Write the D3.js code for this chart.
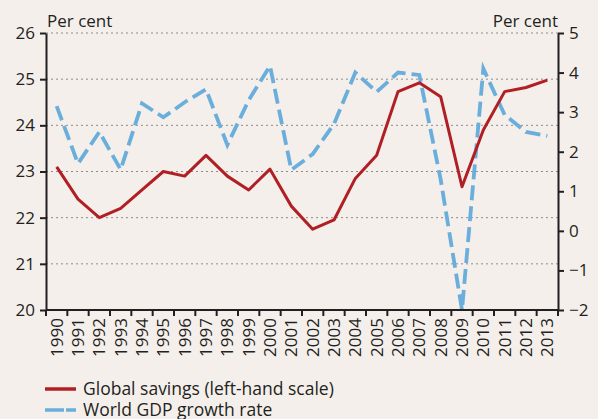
<!DOCTYPE html>
<html>
<head>
<meta charset="utf-8">
<script src="https://cdn.jsdelivr.net/npm/d3@7"></script>
<style>
  body { margin: 0; background: #f5efec; }
  svg { display: block; font-family: 'Open Sans', 'Noto Sans', sans-serif; }
  .axis path, .axis line { stroke: #231f20; stroke-width: 2; }
  .axis text { fill: #231f20; font-size: 17px; font-family: 'Open Sans', 'Noto Sans', sans-serif; }
  .xaxis text { font-size: 17px; }
  .grid line { stroke: #8c8c8c; stroke-width: 1; stroke-dasharray: 2, 3; }
</style>
</head>
<body>
<svg id="chart" width="598" height="419"></svg>
<script>
// years on the x axis
const years = d3.range(1990, 2014).map(String);

// global savings, per cent of GDP (left-hand scale)
const savings = [23.1, 22.4, 22.0, 22.2, 22.6, 23.0, 22.9, 23.35, 22.9, 22.6, 23.05, 22.25,
                 21.75, 21.95, 22.85, 23.35, 24.73, 24.92, 24.62, 22.67, 23.9, 24.73, 24.82, 24.98];

// world GDP growth rate, per cent (right-hand scale)
const gdpGrowth = [3.15, 1.7, 2.5, 1.55, 3.22, 2.87, 3.25, 3.58, 2.17, 3.3, 4.17, 1.54,
                   1.94, 2.7, 4.0, 3.51, 4.0, 3.94, 1.3, -2.0, 4.1, 2.93, 2.5, 2.4];

const leftTicks = [20, 21, 22, 23, 24, 25, 26];
const rightTicks = [-2, -1, 0, 1, 2, 3, 4, 5];

const svg = d3.select('#chart');
const margin = { top: 33, bottom: 109, left: 46, right: 40 };
const width = +svg.attr('width');
const height = +svg.attr('height');
const innerWidth = width - margin.left - margin.right;
const innerHeight = height - margin.top - margin.bottom;
const g = svg.append('g').attr('transform', `translate(${margin.left}, ${margin.top})`);

// scales
const xScale = d3.scaleBand().domain(years).range([0, innerWidth]);
const yLeft = d3.scaleLinear().domain([20, 26]).range([innerHeight, 0]);
const yRight = d3.scaleLinear().domain([-2, 5]).range([innerHeight, 0]);
const xc = d => xScale(d) + xScale.bandwidth() / 2;

// dotted gridlines on the left-hand scale
g.append('g').attr('class', 'grid')
    .selectAll('line')
    .data(leftTicks.filter(t => t > 20))
    .enter().append('line')
    .attr('x1', 0).attr('x2', innerWidth)
    .attr('y1', d => yLeft(d)).attr('y2', d => yLeft(d));

// lines
const savingsLine = d3.line().x((d, i) => xc(years[i])).y(d => yLeft(d));
const gdpLine = d3.line().x((d, i) => xc(years[i])).y(d => yRight(d));

g.append('path')
    .datum(gdpGrowth)
    .attr('fill', 'none')
    .attr('stroke', '#6aaedb')
    .attr('stroke-width', 3.8)
    .attr('stroke-dasharray', '15, 6')
    .attr('d', gdpLine);

g.append('path')
    .datum(savings)
    .attr('fill', 'none')
    .attr('stroke', '#b01f24')
    .attr('stroke-width', 3)
    .attr('stroke-linejoin', 'round')
    .attr('d', savingsLine);

// axes
const yAxisLeft = d3.axisLeft(yLeft).tickValues(leftTicks).tickFormat(d3.format('d'))
    .tickSizeInner(6).tickSizeOuter(0).tickPadding(5);
const yAxisRight = d3.axisRight(yRight).tickValues(rightTicks)
    .tickSizeInner(6).tickSizeOuter(0).tickPadding(5)
    .tickFormat(d => d < 0 ? '\u2212' + Math.abs(d) : d);

g.append('g').attr('class', 'axis').call(yAxisLeft);
g.append('g').attr('class', 'axis').attr('transform', `translate(${innerWidth}, 0)`).call(yAxisRight);

// x axis with ticks between the years
const xAxisG = g.append('g').attr('class', 'axis xaxis').attr('transform', `translate(0, ${innerHeight})`);
xAxisG.append('line')
    .attr('x1', 0).attr('x2', innerWidth)
    .attr('y1', 0).attr('y2', 0);
xAxisG.selectAll('line.tick')
    .data(d3.range(years.length + 1))
    .enter().append('line')
    .attr('class', 'tick')
    .attr('x1', i => i * xScale.step()).attr('x2', i => i * xScale.step())
    .attr('y1', 0).attr('y2', 6);
xAxisG.selectAll('text')
    .data(years)
    .enter().append('text')
    .attr('transform', d => `translate(${xc(d) + 6}, 8) rotate(-90)`)
    .attr('text-anchor', 'end')
    .text(d => d);

// axis titles
svg.append('text')
    .attr('x', margin.left + 1).attr('y', 27)
    .attr('font-size', 17).attr('fill', '#231f20')
    .text('Per cent');
svg.append('text')
    .attr('x', margin.left + innerWidth).attr('y', 27)
    .attr('text-anchor', 'end')
    .attr('font-size', 17).attr('fill', '#231f20')
    .text('Per cent');

// legend
const legend = svg.append('g').attr('transform', 'translate(45, 389)');
const items = [
    { label: 'Global savings (left-hand scale)', color: '#b01f24', dash: null },
    { label: 'World GDP growth rate', color: '#6aaedb', dash: '19, 2' }
];
items.forEach((item, i) => {
    const row = legend.append('g').attr('transform', `translate(0, ${i * 21})`);
    row.append('line')
        .attr('x1', 0).attr('x2', 31).attr('y1', 0).attr('y2', 0)
        .attr('stroke', item.color).attr('stroke-width', 3.5)
        .attr('stroke-dasharray', item.dash);
    row.append('text')
        .attr('x', 38).attr('y', 6)
        .attr('font-size', 17.5).attr('fill', '#231f20')
        .text(item.label);
});
</script>
</body>
</html>
